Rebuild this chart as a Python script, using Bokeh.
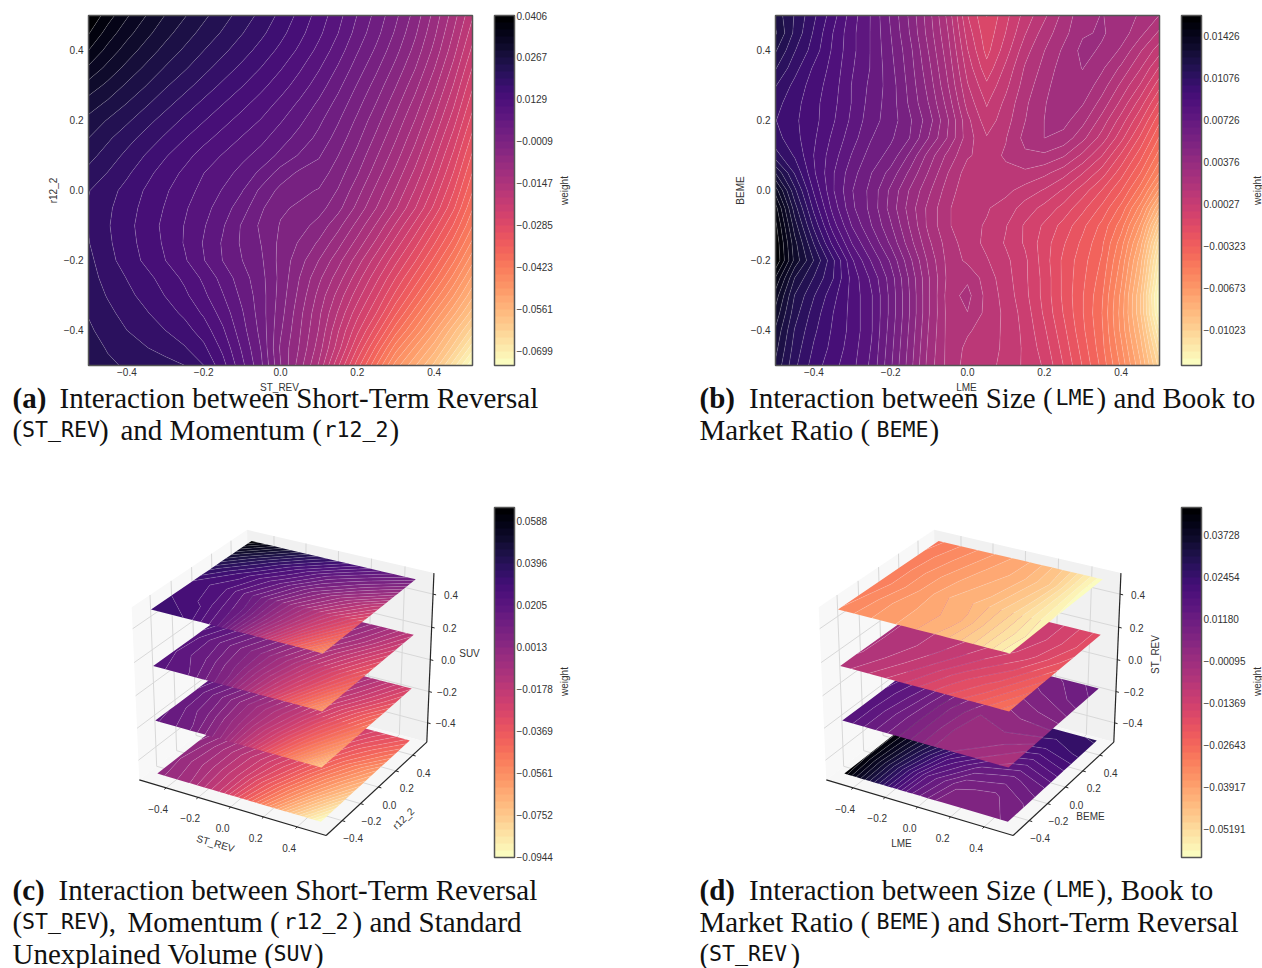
import numpy as np
from bokeh.core.properties import value
from bokeh.embed import file_html
from bokeh.layouts import column, row
from bokeh.models import AllLabels, ColorBar, FixedTicker, Label, LinearColorMapper, Range1d
from bokeh.palettes import Magma256, linear_palette
from bokeh.plotting import figure
from bokeh.resources import INLINE

GRID_2D = [-0.5, -0.45, -0.4, -0.35, -0.3, -0.25, -0.2, -0.15, -0.1, -0.05, 0.0,
           0.05, 0.1, 0.15, 0.2, 0.25, 0.3, 0.35, 0.4, 0.45, 0.5]
GRID_3D = [-0.5, -0.3, -0.1, 0.1, 0.3, 0.5]
LAYERS = [-0.5, -1 / 6, 1 / 6, 0.5]

# Panel (a), weight x 1e-4; rows listed from y=+0.50 (top) down to y=-0.50
Z_A_E4 = [
    [406, 371, 340, 314, 290, 270, 250, 231, 212, 192, 170, 146, 120, 92, 60, 30, -3, -40, -85, -135, -190],
    [385, 350, 322, 298, 276, 256, 237, 219, 200, 181, 160, 137, 112, 84, 52, 22, -12, -50, -95, -147, -205],
    [360, 329, 303, 281, 260, 241, 222, 204, 186, 167, 147, 125, 100, 72, 40, 10, -24, -62, -107, -160, -222],
    [333, 307, 284, 263, 243, 225, 206, 188, 170, 152, 132, 110, 86, 58, 27, -4, -38, -76, -122, -176, -240],
    [305, 285, 264, 245, 225, 207, 189, 171, 154, 136, 117, 96, 72, 44, 13, -18, -53, -92, -138, -193, -258],
    [281, 264, 245, 226, 207, 189, 171, 154, 137, 120, 101, 80, 57, 30, 0, -32, -68, -108, -155, -210, -276],
    [261, 243, 226, 207, 189, 171, 154, 137, 121, 105, 86, 66, 43, 17, -13, -46, -83, -124, -172, -228, -295],
    [245, 226, 208, 190, 172, 154, 137, 121, 105, 90, 71, 52, 31, 5, -25, -60, -98, -140, -190, -247, -315],
    [230, 212, 193, 174, 155, 138, 120, 105, 90, 75, 55, 35, 17, -8, -38, -75, -113, -157, -208, -266, -335],
    [215, 198, 180, 160, 142, 125, 107, 93, 76, 55, 28, 10, 4, -20, -52, -90, -130, -175, -226, -285, -355],
    [200, 185, 168, 150, 133, 116, 100, 82, 62, 32, 8, -3, -10, -33, -68, -107, -148, -194, -246, -305, -375],
    [197, 180, 163, 145, 128, 110, 92, 72, 48, 18, -5, -12, -22, -47, -84, -124, -167, -214, -267, -326, -398],
    [198, 178, 160, 142, 124, 106, 86, 63, 35, 10, -10, -22, -40, -70, -108, -150, -196, -245, -298, -355, -422],
    [200, 180, 162, 144, 126, 105, 82, 58, 34, 14, -14, -34, -58, -92, -132, -176, -225, -275, -328, -385, -452],
    [205, 184, 165, 148, 130, 110, 85, 60, 38, 18, -16, -45, -78, -115, -158, -205, -255, -305, -360, -418, -485],
    [208, 191, 175, 160, 143, 125, 102, 75, 48, 22, -15, -55, -95, -135, -182, -232, -285, -338, -393, -453, -520],
    [214, 197, 182, 168, 152, 135, 112, 85, 55, 25, -18, -62, -108, -155, -205, -258, -315, -372, -430, -490, -555],
    [220, 205, 190, 178, 163, 148, 126, 97, 63, 26, -22, -70, -118, -172, -230, -285, -350, -410, -470, -530, -595],
    [226, 212, 199, 188, 176, 162, 142, 110, 70, 30, -28, -75, -125, -190, -255, -320, -390, -450, -510, -575, -640],
    [232, 220, 209, 200, 190, 178, 158, 124, 80, 36, -35, -80, -135, -205, -285, -360, -435, -495, -550, -615, -690],
    [240, 226, 219, 214, 208, 199, 176, 138, 90, 42, -30, -90, -150, -235, -320, -400, -480, -535, -590, -665, -745],
]
# Panel (b), weight x 1e-5; rows listed from y=+0.50 (top) down to y=-0.50
Z_B_E5 = [
    [1230, 1130, 1030, 925, 810, 720, 600, 480, 340, 180, -30, -150, -50, 50, 130, 220, 300, 320, 300, 250, 200],
    [1260, 1120, 1010, 900, 800, 720, 610, 490, 350, 200, 0, -130, -30, 80, 170, 240, 310, 325, 290, 220, 130],
    [1200, 1080, 990, 890, 800, 720, 620, 510, 370, 220, 30, -110, 0, 120, 200, 270, 335, 310, 250, 150, 50],
    [1140, 1040, 950, 880, 790, 720, 630, 520, 390, 240, 60, -70, 40, 150, 220, 290, 320, 270, 190, 90, -40],
    [1080, 1000, 930, 870, 780, 710, 640, 530, 410, 260, 90, -20, 70, 170, 240, 300, 300, 230, 130, 20, -130],
    [1040, 980, 920, 860, 780, 700, 640, 540, 430, 290, 120, 20, 100, 190, 255, 300, 265, 180, 70, -60, -220],
    [1020, 970, 920, 850, 770, 690, 640, 560, 460, 320, 160, 50, 120, 200, 260, 280, 220, 120, 0, -140, -310],
    [1040, 980, 910, 830, 750, 670, 620, 550, 430, 310, 170, 90, 140, 220, 260, 240, 160, 60, -70, -220, -390],
    [1100, 1010, 900, 810, 720, 640, 590, 480, 350, 240, 150, 120, 150, 190, 190, 150, 70, -30, -160, -300, -470],
    [1250, 1070, 910, 790, 690, 610, 530, 420, 310, 200, 115, 110, 130, 130, 100, 50, -30, -120, -240, -380, -560],
    [1400, 1150, 950, 790, 670, 590, 480, 370, 270, 170, 105, 105, 100, 60, 20, -40, -120, -210, -320, -470, -690],
    [1510, 1220, 1000, 820, 680, 590, 470, 350, 240, 150, 100, 90, 60, 0, -50, -110, -190, -280, -400, -580, -850],
    [1560, 1280, 1060, 870, 720, 610, 500, 370, 240, 150, 100, 80, 30, -40, -100, -170, -250, -340, -470, -680, -1000],
    [1590, 1330, 1130, 940, 780, 660, 540, 400, 270, 170, 115, 70, 20, -40, -120, -200, -280, -370, -530, -760, -1120],
    [1600, 1350, 1190, 1030, 850, 720, 600, 450, 300, 180, 130, 90, 40, -20, -120, -220, -300, -390, -570, -820, -1200],
    [1480, 1250, 1130, 1020, 880, 770, 640, 480, 320, 185, 190, 115, 50, -20, -110, -220, -310, -410, -600, -860, -1250],
    [1400, 1190, 1080, 980, 880, 790, 650, 490, 320, 175, 220, 125, 60, -15, -110, -220, -320, -430, -630, -900, -1310],
    [1350, 1160, 1050, 960, 880, 790, 650, 490, 320, 180, 200, 125, 70, 0, -100, -210, -320, -440, -640, -900, -1290],
    [1300, 1130, 1030, 950, 880, 790, 640, 480, 310, 180, 150, 120, 70, 10, -80, -190, -310, -430, -630, -860, -1200],
    [1270, 1110, 1010, 940, 870, 780, 630, 470, 300, 180, 130, 115, 70, 15, -60, -170, -290, -420, -600, -820, -1120],
    [1240, 1090, 990, 920, 860, 770, 620, 460, 290, 180, 120, 105, 65, 15, -40, -150, -270, -400, -570, -780, -1050],
]
# 3D layers: rows run from y=-0.5 to y=0.5
Z_C0 = [
    [0.000, -0.008, -0.022, -0.045, -0.070, -0.0944],
    [-0.001, -0.010, -0.022, -0.040, -0.060, -0.082],
    [0.001, -0.010, -0.021, -0.034, -0.052, -0.070],
    [0.004, -0.007, -0.017, -0.029, -0.044, -0.060],
    [0.009, -0.002, -0.012, -0.023, -0.036, -0.048],
    [0.014, 0.003, -0.007, -0.018, -0.028, -0.038],
]
Z_C1 = [
    [0.018, 0.012, -0.002, -0.025, -0.050, -0.076],
    [0.017, 0.008, -0.005, -0.022, -0.042, -0.062],
    [0.017, 0.006, -0.006, -0.018, -0.035, -0.052],
    [0.020, 0.010, -0.002, -0.014, -0.028, -0.044],
    [0.026, 0.016, 0.004, -0.008, -0.020, -0.034],
    [0.032, 0.022, 0.010, -0.002, -0.014, -0.027],
]
Z_C2 = [
    [0.022, 0.018, 0.006, -0.015, -0.038, -0.062],
    [0.021, 0.014, 0.003, -0.013, -0.030, -0.050],
    [0.022, 0.012, 0.002, -0.010, -0.025, -0.040],
    [0.026, 0.016, 0.006, -0.005, -0.018, -0.032],
    [0.033, 0.023, 0.012, 0.001, -0.010, -0.024],
    [0.040, 0.030, 0.018, 0.006, -0.005, -0.017],
]
Z_C3 = [
    [0.033, 0.030, 0.017, -0.010, -0.035, -0.058],
    [0.030, 0.026, 0.015, -0.005, -0.025, -0.044],
    [0.030, 0.024, 0.012, -0.003, -0.018, -0.033],
    [0.038, 0.028, 0.018, 0.005, -0.007, -0.020],
    [0.050, 0.038, 0.027, 0.016, 0.007, -0.003],
    [0.065, 0.052, 0.040, 0.030, 0.020, 0.012],
]
Z_D0 = [
    [0.045, 0.030, 0.015, 0.006, 0.006, 0.008],
    [0.044, 0.030, 0.016, 0.008, 0.007, 0.010],
    [0.044, 0.032, 0.020, 0.013, 0.011, 0.014],
    [0.044, 0.034, 0.025, 0.019, 0.017, 0.020],
    [0.044, 0.035, 0.028, 0.024, 0.023, 0.025],
    [0.045, 0.036, 0.030, 0.027, 0.026, 0.027],
]
Z_D1 = [
    [0.018, 0.012, 0.006, 0.000, -0.003, -0.006],
    [0.018, 0.012, 0.006, 0.000, 0.000, -0.003],
    [0.018, 0.013, 0.006, 0.001, 0.002, 0.002],
    [0.019, 0.014, 0.007, 0.003, 0.005, 0.007],
    [0.020, 0.015, 0.009, 0.006, 0.008, 0.011],
    [0.021, 0.017, 0.011, 0.008, 0.010, 0.013],
]
Z_D2 = [
    [-0.006, -0.010, -0.014, -0.019, -0.024, -0.030],
    [-0.005, -0.008, -0.012, -0.017, -0.021, -0.027],
    [-0.005, -0.007, -0.010, -0.014, -0.018, -0.024],
    [-0.005, -0.007, -0.009, -0.012, -0.015, -0.021],
    [-0.005, -0.007, -0.009, -0.011, -0.014, -0.019],
    [-0.005, -0.008, -0.009, -0.011, -0.014, -0.019],
]
Z_D3 = [
    [-0.033, -0.037, -0.040, -0.044, -0.050, -0.058],
    [-0.032, -0.037, -0.040, -0.043, -0.050, -0.057],
    [-0.031, -0.036, -0.041, -0.044, -0.050, -0.058],
    [-0.031, -0.036, -0.040, -0.043, -0.049, -0.059],
    [-0.031, -0.035, -0.039, -0.042, -0.048, -0.060],
    [-0.030, -0.034, -0.038, -0.042, -0.049, -0.060],
]

CB_A = ["0.0406", "0.0267", "0.0129", "−0.0009", "−0.0147", "−0.0285", "−0.0423", "−0.0561", "−0.0699"]
CB_B = ["0.01426", "0.01076", "0.00726", "0.00376", "0.00027", "−0.00323", "−0.00673", "−0.01023"]
CB_C = ["0.0588", "0.0396", "0.0205", "0.0013", "−0.0178", "−0.0369", "−0.0561", "−0.0752", "−0.0944"]
CB_D = ["0.03728", "0.02454", "0.01180", "−0.00095", "−0.01369", "−0.02643", "−0.03917", "−0.05191"]
RANGE_A = (-0.0745, 0.0406)
RANGE_B = (-0.01315, 0.01601)
RANGE_C = (-0.0944, 0.0652)
RANGE_D = (-0.0604, 0.04577)
TICKS = [-0.4, -0.2, 0.0, 0.2, 0.4]
TICK_TEXT = ["−0.4", "−0.2", "0.0", "0.2", "0.4"]

SANS = "Liberation Sans"
SERIF = "Liberation Serif"
MONO = "DejaVu Sans Mono"
INK = "#333333"
EDGE = "#555555"
N_BANDS = 50
PALETTE = linear_palette(Magma256[::-1], N_BANDS)

CAP_A = [
    (12, 397, "(a)", "b"), (59, 397, "Interaction between Short-Term Reversal", "s"),
    (12, 429, "(", "s"), (21.5, 429, "ST_REV", "m"), (98.5, 429, ")", "s"), (120, 429, "and Momentum (", "s"),
    (323, 429, "r12_2", "m"), (389, 429, ")", "s"),
]
CAP_B = [
    (699, 397, "(b)", "b"), (748.5, 397, "Interaction between Size (", "s"), (1055, 397, "LME", "m"),
    (1096, 397, ") and Book to", "s"),
    (699, 429, "Market Ratio (", "s"), (876, 429, "BEME", "m"), (929, 429, ")", "s"),
]
CAP_C = [
    (12, 889, "(c)", "b"), (58, 889, "Interaction between Short-Term Reversal", "s"),
    (12, 921, "(", "s"), (21.5, 921, "ST_REV", "m"), (98.5, 921, "),", "s"), (127, 921, "Momentum (", "s"),
    (283, 921, "r12_2", "m"), (352, 921, ") and Standard", "s"),
    (12, 953, "Unexplained Volume (", "s"), (273, 953, "SUV", "m"), (313.5, 953, ")", "s"),
]
CAP_D = [
    (699, 889, "(d)", "b"), (748.5, 889, "Interaction between Size (", "s"), (1055, 889, "LME", "m"),
    (1096, 889, "), Book to", "s"),
    (699, 921, "Market Ratio (", "s"), (876, 921, "BEME", "m"), (930, 921, ") and Short-Term Reversal", "s"),
    (699, 953, "(", "s"), (708.5, 953, "ST_REV", "m"), (790, 953, ")", "s"),
]


def levels_for(rng):
    return np.linspace(rng[0] - 1e-9, rng[1] + 1e-9, N_BANDS + 1)


def colorbar(rng, labels, top_offset, location):
    step = (rng[1] - rng[0]) * 42 / 350
    px = step / 42
    first = rng[1] - top_offset * px
    ticks = [min(first - i * step + px, rng[1]) for i in range(len(labels))]
    return ColorBar(
        color_mapper=LinearColorMapper(palette=PALETTE, low=rng[0], high=rng[1]),
        ticker=FixedTicker(ticks=ticks[::-1]), major_label_overrides=dict(zip(ticks, labels)),
        major_label_policy=AllLabels(), location=location,
        width=20, height=350, padding=0, margin=0, label_standoff=2,
        major_tick_line_color=None, minor_tick_line_color=None,
        bar_line_color=EDGE, bar_line_width=1.5, border_line_color=None, background_fill_color=None,
        major_label_text_font=SANS, major_label_text_font_size="10px", major_label_text_color=INK,
    )


def add_caption(p, parts, to_x, to_y):
    for px, py, text, kind in parts:
        font, size, style = {"s": (SERIF, "29px", "normal"), "b": (SERIF, "29px", "bold"),
                             "m": (MONO, "21.6px", "normal")}[kind]
        p.add_layout(Label(x=to_x(px), y=to_y(py), text=text, text_font=font,
                           text_font_size=size, text_font_style=style, text_color="#111111",
                           text_baseline="alphabetic"))


def panel_2d(z, scale, rng, cb_labels, cb_top, xlabel, ylabel, caption, x0, width, left, weight_x, cb_x):
    xs0 = -0.5 - left / 384
    ys1 = 0.5 + 15 / 350
    p = figure(width=width, height=492, x_range=Range1d(xs0, xs0 + width / 384),
               y_range=Range1d(ys1 - 492 / 350, ys1),
               output_backend="svg", toolbar_location=None, min_border=0)
    p.grid.visible = False
    p.outline_line_color = None
    p.contour(GRID_2D, GRID_2D[::-1], np.array(z) * scale, levels=levels_for(rng), fill_color=PALETTE,
              line_color="#ffffff", line_alpha=0.28, line_width=0.6)
    p.quad(left=[-0.5], right=[0.5], bottom=[-0.5], top=[0.5], fill_color=None, line_color=EDGE, line_width=1.5)
    dy = 1 / 350
    y_ticks = [t + dy for t in TICKS]
    for ax, ticks, standoff in ((p.xaxis[0], TICKS, 2), (p.yaxis[0], y_ticks, 5)):
        ax.fixed_location = -0.5
        ax.ticker = FixedTicker(ticks=ticks)
        ax.major_label_overrides = dict(zip(ticks, TICK_TEXT))
        ax.major_label_text_font = SANS
        ax.major_label_text_font_size = "10px"
        ax.major_label_text_color = INK
        ax.major_label_standoff = standoff
        ax.major_tick_line_color = None
        ax.major_tick_out = 0
        ax.major_tick_in = 0
        ax.minor_tick_line_color = None
        ax.axis_line_color = None
    p.add_layout(colorbar(rng, cb_labels, cb_top, (cb_x, 127)))
    to_x = lambda px: -0.5 + (px - x0 - left) / 384
    to_y = lambda py: 0.5 - (py - 15) / 350
    for tx, ty, ang, txt in ((weight_x, 190, np.pi / 2, "weight"), (x0 + left - 35, 190, np.pi / 2, ylabel),
                             (x0 + left + 191, 387, 0, xlabel)):
        p.add_layout(Label(x=to_x(tx), y=to_y(ty), text=txt, angle=ang, text_font=SANS, text_font_size="10px",
                           text_color=INK, text_align="center", text_baseline="middle"))
    add_caption(p, caption, to_x, to_y)
    return p


L_XY, L_Z = 0.57, 0.525
_CORNERS = [(-1, -1, -1), (1, -1, -1), (1, 1, -1), (-1, -1, 1), (1, 1, 1), (-1, 1, 1)]
_PX = np.array([138.3, 326.7, 426.0, 131.7, 433.3, 246.0])
_PY = np.array([779.3, 835.0, 741.7, 606.7, 572.7, 529.3])


def _camera(x, y, z):
    el, az, d = np.radians(30), np.radians(-60), 10.0
    c = np.array([0.5, 0.5, 0.5])
    eye = c + d * np.array([np.cos(el) * np.cos(az), np.cos(el) * np.sin(az), np.sin(el)])
    n = (eye - c) / d
    u = np.cross([0, 0, 1], n)
    u = u / np.linalg.norm(u)
    v = np.cross(n, u)
    rx = (np.asarray(x) + L_XY) / (2 * L_XY) - eye[0]
    ry = (np.asarray(y) + L_XY) / (2 * L_XY) - eye[1]
    rz = (np.asarray(z) + L_Z) / (2 * L_Z) - eye[2]
    depth = -(rx * n[0] + ry * n[1] + rz * n[2])
    return (rx * u[0] + ry * u[1] + rz * u[2]) / depth, (rx * v[0] + ry * v[1] + rz * v[2]) / depth


_cx, _cy = _camera(*[np.array([c[i] * (L_Z if i == 2 else L_XY) for c in _CORNERS]) for i in range(3)])
_fx = np.polyfit(_cx, _PX, 1)
_fy = np.polyfit(_cy, _PY, 1)


def project(x, y, z, dx):
    cx, cy = _camera(x, y, z)
    return _fx[0] * cx + _fx[1] + dx, _fy[0] * cy + _fy[1]


def panel_3d(layers, rng, cb_labels, cb_top, xlabel, ylabel, zlabel, caption, x0, width, dx, weight_x):
    p = figure(width=width, height=476, x_range=Range1d(x0, x0 + width), y_range=Range1d(968, 492),
               output_backend="svg", toolbar_location=None, min_border=0)
    p.axis.visible = False
    p.grid.visible = False
    p.outline_line_color = None
    P = lambda a, b, c: project(np.array(a, float), np.array(b, float), np.array(c, float), dx)
    L, Lz = L_XY, L_Z
    walls = [
        ([-L, -L, -L, -L], [-L, L, L, -L], [-Lz, -Lz, Lz, Lz], "#f8f8f8"),
        ([-L, L, L, -L], [L, L, L, L], [-Lz, -Lz, Lz, Lz], "#f1f1f1"),
        ([-L, L, L, -L], [-L, -L, L, L], [-Lz, -Lz, -Lz, -Lz], "#f7f7f7"),
    ]
    for a, b, c, col in walls:
        xs, ys = P(a, b, c)
        p.patch(xs, ys, fill_color=col, line_color=None)
    segs = []
    for t in TICKS:
        segs += [([t, t, t], [-L, L, L], [-Lz, -Lz, Lz]),
                 ([-L, L, L], [t, t, t], [-Lz, -Lz, -Lz]),
                 ([-L, -L, -L], [t, t, t], [-Lz, -Lz, Lz]),
                 ([-L, -L, L], [-L, L, L], [t, t, t])]
    gx, gy = zip(*[P(*s) for s in segs])
    p.multi_line([list(v) for v in gx], [list(v) for v in gy], line_color="#d8d8d8", line_width=1)
    gridx, gridy = np.meshgrid(GRID_3D, GRID_3D)
    for z_layer, z in zip(LAYERS, layers):
        xs, ys = P(gridx, gridy, np.full_like(gridx, z_layer))
        p.contour(xs, ys, np.array(z), levels=levels_for(rng), fill_color=PALETTE,
                  line_color="#ffffff", line_alpha=0.25, line_width=0.6)
    axes = [([-L, L], [-L, -L], [-Lz, -Lz]), ([L, L], [-L, L], [-Lz, -Lz]), ([L, L], [L, L], [-Lz, Lz])]
    for a, b, c in axes:
        xs, ys = P(a, b, c)
        p.line(xs, ys, line_color="#262626", line_width=1.2)
    tk = 0.018
    for t, txt in zip(TICKS, TICK_TEXT):
        for (a, b, c), (ox, oy) in (
            (([t, t], [-L, -L - tk], [-Lz, -Lz]), (-8, 21)),
            (([L, L + tk], [t, t], [-Lz, -Lz]), (11, 17.5)),
            (([L, L + tk], [L, L], [t, t]), (18, 0.5)),
        ):
            xs, ys = P(a, b, c)
            p.line(xs, ys, line_color="#262626", line_width=1)
            p.text([xs[0] + ox], [ys[0] + oy], text=[txt], text_font=value(SANS), text_font_size="10px",
                   text_color=INK, text_align="center", text_baseline="middle")
    for (tx, ty, ang, txt) in (xlabel, ylabel, zlabel):
        p.text([tx], [ty], text=[txt], angle=ang, text_font=value(SANS), text_font_size="10px",
               text_color=INK, text_align="center", text_baseline="middle")
    p.add_layout(colorbar(rng, cb_labels, cb_top, (494 if x0 == 0 else 486, 111)))
    p.add_layout(Label(x=weight_x, y=681, text="weight", angle=np.pi / 2, text_font=SANS, text_font_size="10px",
                       text_color=INK, text_align="center", text_baseline="middle"))
    add_caption(p, caption, lambda v: v, lambda v: v)
    return p


pa = panel_2d(Z_A_E4, 1e-4, RANGE_A, CB_A, 0, "ST_REV", "r12_2", CAP_A, 0, 695, 88, 564, 494)
pb = panel_2d(Z_B_E5, 1e-5, RANGE_B, CB_B, 21, "LME", "BEME", CAP_B, 695, 567, 80, 1257, 486)
pc = panel_3d([Z_C0, Z_C1, Z_C2, Z_C3], RANGE_C, CB_C, 14,
              (215, 843, -0.28, "ST_REV"), (403, 818, 0.78, "r12_2"), (469, 653, 0, "SUV"), CAP_C, 0, 695, 0, 564)
pd = panel_3d([Z_D0, Z_D1, Z_D2, Z_D3], RANGE_D, CB_D, 28,
              (901, 843, 0, "LME"), (1090, 816, 0, "BEME"), (1155, 654, np.pi / 2, "ST_REV"), CAP_D, 695, 567, 687, 1257)

layout = column(row(pa, pb, spacing=0), row(pc, pd, spacing=0), spacing=0)
open("out.html", "w").write(file_html(layout, INLINE))
